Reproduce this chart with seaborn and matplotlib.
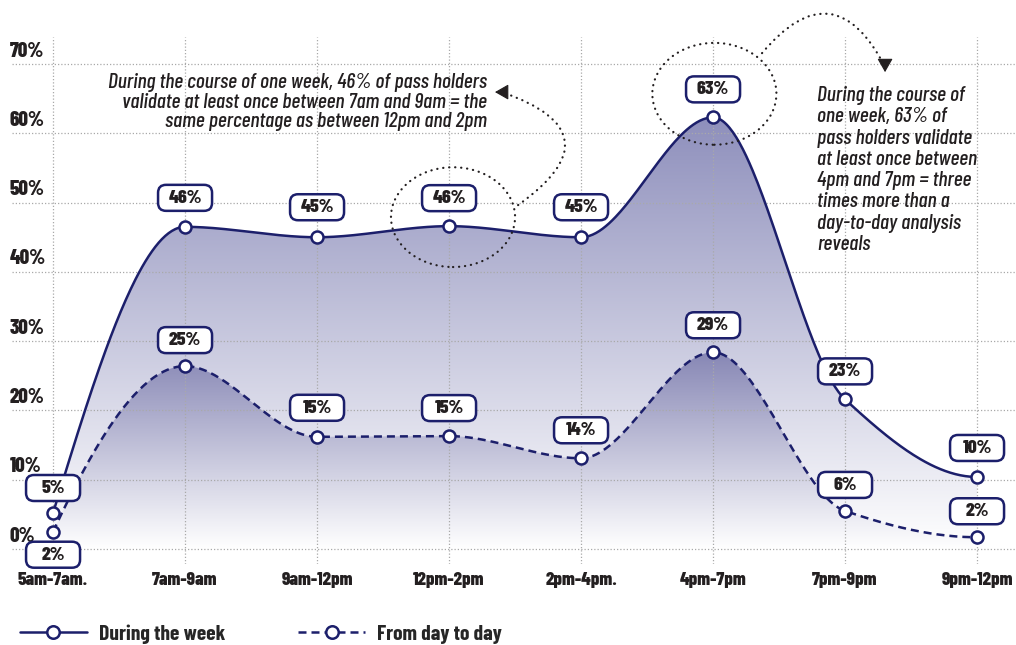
import numpy as np
import pandas as pd
import matplotlib
matplotlib.use("Agg")
import matplotlib.pyplot as plt
import matplotlib.transforms as mtransforms
from matplotlib.patches import FancyBboxPatch, Ellipse, Polygon
from matplotlib.lines import Line2D
from matplotlib.colors import to_rgb
import seaborn as sns

# Données (part des abonnés qui valident au moins une fois)
periods = ["5am-7am.", "7am-9am", "9am-12pm", "12pm-2pm", "2pm-4pm.", "4pm-7pm", "7pm-9pm", "9pm-12pm"]
week_values = [5.2, 46.5, 45.0, 46.6, 45.0, 62.3, 21.6, 10.4]
week_labels = ["5%", "46%", "45%", "46%", "45%", "63%", "23%", "10%"]
day_values = [2.5, 26.4, 16.2, 16.3, 13.1, 28.4, 5.5, 1.7]
day_labels = ["2%", "25%", "15%", "15%", "14%", "29%", "6%", "2%"]
y_ticks = [0, 10, 20, 30, 40, 50, 60, 70]

note_week = ("During the course of one week, 46% of pass holders\n"
             "validate at least once between 7am and 9am = the\n"
             "same percentage as between 12pm and 2pm")
note_peak = ("During the course of\none week, 63% of\npass holders validate\n"
             "at least once between\n4pm and 7pm = three\ntimes more than a\n"
             "day-to-day analysis\nreveals")

NAVY = "#1c1f6b"
INK = "#231f20"
FONT = ["Barlow Condensed", "DejaVu Sans"]


def pchip(x, y, n=80):
    # courbe lissée monotone (Fritsch-Carlson) pour le tracé
    x = np.asarray(x, float)
    y = np.asarray(y, float)
    h = np.diff(x)
    delta = np.diff(y) / h
    d = np.zeros_like(y)
    for k in range(1, len(y) - 1):
        if delta[k - 1] * delta[k] > 0:
            w1 = 2 * h[k] + h[k - 1]
            w2 = h[k] + 2 * h[k - 1]
            d[k] = (w1 + w2) / (w1 / delta[k - 1] + w2 / delta[k])
    for i0, i1, k in [(0, 1, 0), (-1, -2, -1)]:
        dk = ((2 * h[i0] + h[i1]) * delta[i0] - h[i0] * delta[i1]) / (h[i0] + h[i1])
        if np.sign(dk) != np.sign(delta[i0]):
            dk = 0
        elif np.sign(delta[i0]) != np.sign(delta[i1]) and abs(dk) > abs(3 * delta[i0]):
            dk = 3 * delta[i0]
        d[k] = dk
    xs, ys = [], []
    for k in range(len(h)):
        t = np.linspace(0, 1, n, endpoint=(k == len(h) - 1))
        h00 = 2 * t**3 - 3 * t**2 + 1
        h10 = t**3 - 2 * t**2 + t
        h01 = -2 * t**3 + 3 * t**2
        h11 = t**3 - t**2
        xs.append(x[k] + t * h[k])
        ys.append(h00 * y[k] + h10 * h[k] * d[k] + h01 * y[k + 1] + h11 * h[k] * d[k + 1])
    return np.concatenate(xs), np.concatenate(ys)


def gradient_fill(ax, xs, ys, top_color, z):
    verts = np.column_stack([np.r_[xs, xs[-1], xs[0]], np.r_[ys, 0, 0]])
    clip = Polygon(verts, closed=True, facecolor="none", edgecolor="none")
    ax.add_patch(clip)
    t = np.linspace(0, 1, 256)[:, None]
    rgb = (1 - t) * np.ones(3) + t * np.array(to_rgb(top_color))
    im = ax.imshow(rgb[:, None, :], extent=[xs[0], xs[-1], 0, ys.max()],
                   origin="lower", aspect="auto", zorder=z, interpolation="bilinear")
    im.set_clip_path(clip)


sns.set_theme(style="whitegrid", rc={"grid.color": "#a9a9a9", "grid.linestyle": (0, (1, 1.6)),
                                     "grid.linewidth": 0.9})
plt.rcParams["font.family"] = FONT

fig = plt.figure(figsize=(10.16, 6.45), dpi=100)
ax = fig.add_axes([12 / 1016, 81 / 645, 1004 / 1016, 527 / 645])
ax.set_axisbelow("line")

x_idx = np.arange(len(periods))
wx, wy = pchip(x_idx, week_values)
dx, dy = pchip(x_idx, day_values)

gradient_fill(ax, wx, wy, "#8e8fbc", 1.0)
gradient_fill(ax, dx, dy, "#8787b5", 1.1)

week_df = pd.DataFrame({"x": wx, "y": wy})
day_df = pd.DataFrame({"x": dx, "y": dy})
sns.lineplot(data=week_df, x="x", y="y", sort=False, color=NAVY, lw=1.8, ax=ax, zorder=3)
sns.lineplot(data=day_df, x="x", y="y", sort=False, color=NAVY, lw=1.8, ax=ax, zorder=3,
             linestyle=(0, (3.2, 2.0)))

for vals in (week_values, day_values):
    sns.scatterplot(x=x_idx, y=vals, s=75, marker="o", color="white", edgecolor=NAVY,
                    linewidth=1.8, ax=ax, zorder=4)

# étiquettes dans des cartouches arrondis
week_offsets = [25, 29, 30, 28, 30, 28, 28, 29]
day_offsets = [-23, 26, 29, 28, 28, 27, 26, 26]
for vals, labels, offs in ((week_values, week_labels, week_offsets),
                           (day_values, day_labels, day_offsets)):
    for xi, v, lab, off in zip(x_idx, vals, labels, offs):
        trans = mtransforms.ScaledTranslation(xi, v, ax.transData)
        box = FancyBboxPatch((-27, off - 13), 54, 26, boxstyle="round,pad=0,rounding_size=8",
                             facecolor="white", edgecolor=NAVY, lw=1.8, transform=trans,
                             zorder=5, clip_on=False)
        ax.add_artist(box)
        ax.annotate(lab, xy=(xi, v), xytext=(0, off), textcoords="offset pixels",
                    ha="center", va="center", fontsize=14, fontweight=800, color=INK,
                    zorder=6, annotation_clip=False)

# annotations
ax.text(3.288, 64.5, note_week, ha="right", va="center", multialignment="right",
        fontsize=15.5, fontweight=500, style="italic", color=INK, linespacing=1.05, zorder=6)
ax.text(5.788, 54.7, note_peak, ha="left", va="center", multialignment="left",
        fontsize=15.5, fontweight=500, style="italic", color=INK, linespacing=1.15, zorder=6)

dot = (0, (0.1, 2.6))
ax.add_patch(Ellipse((3.03, 47.9), width=0.94, height=14.4, fill=False, edgecolor=INK,
                     lw=1.6, linestyle=dot, capstyle="round", zorder=6))
ax.add_patch(Ellipse((5.01, 65.7), width=0.94, height=14.7, fill=False, edgecolor=INK,
                     lw=1.6, linestyle=dot, capstyle="round", zorder=6, clip_on=False))

# flèches en pointillés + pointes pleines
path_style = dict(arrowstyle="-", lw=1.6, color=INK, linestyle=dot, capstyle="round",
                  shrinkA=0, shrinkB=0)
head_style = dict(arrowstyle="-|>,head_length=0.7,head_width=0.4", lw=0.8, color=INK,
                  shrinkA=0, shrinkB=0)
arrow1_tail, arrow1_head = (3.523, 49.64), (3.348, 65.95)
arrow2_tail, arrow2_head = (5.371, 71.57), (6.303, 68.83)
ax.annotate("", xy=(3.40, 65.95), xytext=arrow1_tail,
            arrowprops=dict(connectionstyle="arc3,rad=0.97", **path_style), zorder=6)
ax.annotate("", xy=arrow1_head, xytext=(10, 0), textcoords="offset pixels",
            arrowprops=head_style, zorder=6)
ax.annotate("", xy=(6.303, 69.6), xytext=arrow2_tail,
            arrowprops=dict(connectionstyle="arc3,rad=-0.75", **path_style), zorder=6,
            annotation_clip=False)
ax.annotate("", xy=arrow2_head, xytext=(0, 10), textcoords="offset pixels",
            arrowprops=head_style, zorder=6, annotation_clip=False)

# axes
ax.set_xlim(-0.311, 7.295)
ax.set_ylim(-2.16, 73.9)
ax.set_xticks(x_idx)
ax.set_xticklabels(periods, fontsize=13.5, fontweight=800, color=INK)
ax.set_yticks(y_ticks)
ax.set_yticklabels([])
ax.tick_params(axis="both", length=0)
ax.tick_params(axis="x", pad=6)
ax.set_xlabel("")
ax.set_ylabel("")
for s in ax.spines.values():
    s.set_visible(False)

ylab_trans = mtransforms.blended_transform_factory(ax.transAxes, ax.transData)
for v in y_ticks:
    ax.annotate(f"{v}%", xy=(0, v), xycoords=ylab_trans, xytext=(-2, 13),
                textcoords="offset pixels", ha="left", va="center", fontsize=15,
                fontweight=800, color=INK, annotation_clip=False)

handles = [
    Line2D([], [], color=NAVY, lw=1.8, marker="o", markersize=9, markerfacecolor="white",
           markeredgewidth=1.8),
    Line2D([], [], color=NAVY, lw=1.8, linestyle=(0, (3.2, 2.0)), marker="o", markersize=9,
           markerfacecolor="white", markeredgewidth=1.8),
]
fig.legend(handles, ["During the week", "From day to day"], loc="center left",
           bbox_to_anchor=(20 / 1016, 1 - 634 / 645), ncol=2, frameon=False,
           handlelength=3.1, handletextpad=0.55, columnspacing=3.4, borderpad=0,
           borderaxespad=0, prop=dict(family=FONT, weight="bold", size=15.5))

fig.savefig("out.png", dpi=100)
